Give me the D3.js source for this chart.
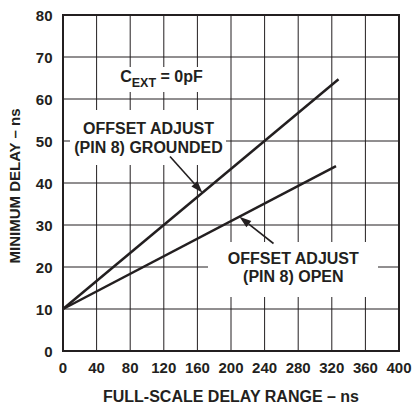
<!DOCTYPE html>
<html>
<head>
<meta charset="utf-8">
<script src="https://cdn.jsdelivr.net/npm/d3@7"></script>
<style>
  body { margin: 0; background: #fff; }
  text { font-family: "Liberation Sans", Arial, Helvetica, sans-serif; font-weight: bold; fill: #231f20; }
</style>
</head>
<body>
<div id="app"></div>
<script>
// data
const xTicks = [0, 40, 80, 120, 160, 200, 240, 280, 320, 360, 400];
const yTicks = [0, 10, 20, 30, 40, 50, 60, 70, 80];
const groundedRange = [0, 328];
const groundedDelay = [10, 64.7];
const openRange = [0, 325];
const openDelay = [10, 44];

const W = 414, H = 405;
const margin = {top: 15, right: 15, bottom: 54, left: 63},
  width = 399 - margin.left,
  height = 351 - margin.top;

const svg = d3.select("#app")
  .append("svg")
  .attr("width", W)
  .attr("height", H);

const g = svg.append("g")
  .attr("transform", "translate(" + margin.left + "," + margin.top + ")");

const x = d3.scaleLinear().domain([0, 400]).range([0, width]);
const y = d3.scaleLinear().domain([0, 80]).range([height, 0]);

// grid
g.selectAll(".vgrid")
  .data(xTicks.slice(1, -1))
  .enter().append("line")
  .attr("x1", d => x(d)).attr("x2", d => x(d))
  .attr("y1", 0).attr("y2", height)
  .attr("stroke", "#231f20").attr("stroke-width", 1);

g.selectAll(".hgrid")
  .data(yTicks.slice(1, -1))
  .enter().append("line")
  .attr("x1", 0).attr("x2", width)
  .attr("y1", d => y(d)).attr("y2", d => y(d))
  .attr("stroke", "#231f20").attr("stroke-width", 1);

// white patches behind the labels (in page pixels)
const boxes = [
  [110, 67, 106, 25],
  [70, 110, 156, 55],
  [208, 242, 170, 55]
];
svg.selectAll(".box")
  .data(boxes)
  .enter().append("rect")
  .attr("x", d => d[0]).attr("y", d => d[1])
  .attr("width", d => d[2]).attr("height", d => d[3])
  .attr("fill", "#fff");

// data lines
const line = d3.line().x(d => x(d[0])).y(d => y(d[1]));
const series = [
  d3.zip(groundedRange, groundedDelay),
  d3.zip(openRange, openDelay)
];
g.selectAll(".series")
  .data(series)
  .enter().append("path")
  .attr("d", line)
  .attr("fill", "none")
  .attr("stroke", "#231f20")
  .attr("stroke-width", 2.5);

// frame
g.append("rect")
  .attr("width", width).attr("height", height)
  .attr("fill", "none")
  .attr("stroke", "#231f20")
  .attr("stroke-width", 2);

// tick labels
g.selectAll(".xlab")
  .data(xTicks)
  .enter().append("text")
  .attr("x", d => x(d))
  .attr("y", height + 21.5)
  .attr("text-anchor", "middle")
  .attr("font-size", 15)
  .text(d => d);

g.selectAll(".ylab")
  .data(yTicks)
  .enter().append("text")
  .attr("x", -10.5)
  .attr("y", d => y(d) + 5.5)
  .attr("text-anchor", "end")
  .attr("font-size", 15)
  .text(d => d);

// axis titles
svg.append("text")
  .attr("x", margin.left + width / 2)
  .attr("y", 401.5)
  .attr("text-anchor", "middle")
  .attr("font-size", 16)
  .text("FULL-SCALE DELAY RANGE – ns");

svg.append("text")
  .attr("transform", "translate(19.5," + (margin.top + height / 2 + 3) + ") rotate(-90)")
  .attr("text-anchor", "middle")
  .attr("font-size", 15)
  .text("MINIMUM DELAY – ns");

// annotations
const cext = svg.append("text")
  .attr("x", 161.5).attr("y", 82)
  .attr("text-anchor", "middle")
  .attr("font-size", 16);
cext.append("tspan").text("C");
cext.append("tspan").attr("dy", 5).attr("font-size", 12.5).text("EXT");
cext.append("tspan").attr("dy", -5).text(" = 0pF");

const labels = [
  {x: 148.5, y: 134, t: "OFFSET ADJUST"},
  {x: 148.5, y: 152.5, t: "(PIN 8) GROUNDED"},
  {x: 293.3, y: 263.5, t: "OFFSET ADJUST"},
  {x: 293.3, y: 281.5, t: "(PIN 8) OPEN"}
];
svg.selectAll(".lab")
  .data(labels)
  .enter().append("text")
  .attr("x", d => d.x).attr("y", d => d.y)
  .attr("text-anchor", "middle")
  .attr("font-size", 16)
  .text(d => d.t);

// arrows: tail -> head, with tip sitting on the series line
const arrows = [
  {from: [170, 156.5], toX: 166},
  {from: [273.5, 243.5], toX: 210, open: true}
];
arrows.forEach(a => {
  const s = a.open ? series[1] : series[0];
  const slope = (s[1][1] - s[0][1]) / (s[1][0] - s[0][0]);
  const tx = margin.left + x(a.toX);
  const ty = margin.top + y(s[0][1] + slope * a.toX);
  const [fx, fy] = a.from;
  const ang = Math.atan2(ty - fy, tx - fx);
  const len = 12, hw = 4;
  const bx = tx - len * Math.cos(ang), by = ty - len * Math.sin(ang);
  svg.append("line")
    .attr("x1", fx).attr("y1", fy).attr("x2", bx).attr("y2", by)
    .attr("stroke", "#231f20").attr("stroke-width", 1.6);
  svg.append("path")
    .attr("d", "M" + tx + "," + ty +
      "L" + (bx + hw * Math.sin(ang)) + "," + (by - hw * Math.cos(ang)) +
      "L" + (bx - hw * Math.sin(ang)) + "," + (by + hw * Math.cos(ang)) + "Z")
    .attr("fill", "#231f20");
});
</script>
</body>
</html>
